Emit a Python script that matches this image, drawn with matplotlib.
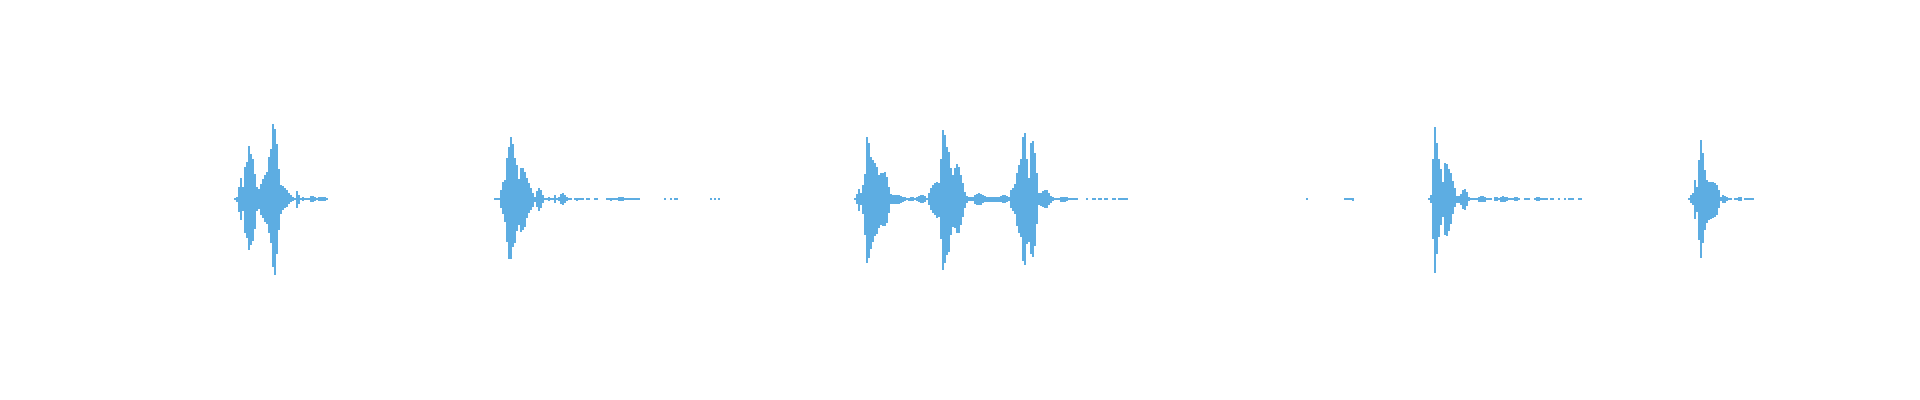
import numpy as np
import matplotlib
matplotlib.use("Agg")
import matplotlib.pyplot as plt

WAVE_COLOR = "#5dade2"
STEP = 2  # samples (columns) per envelope value

# ---- waveform envelope data (peak above / below the zero line) ----
burst1_start = 234
burst1_up = [1, 2, 12, 21, 12, 32, 37, 53, 45, 40, 25, 12, 10, 15, 20, 24, 27, 42, 50, 75,
             70, 55, 30, 14, 13, 11, 9, 6, 4, 2, 1, 8, 4, 1, 2, 1, 1, 1, 3, 3,
             2, 1, 2, 2, 2, 2, 1]
burst1_down = [1, 3, 13, 21, 12, 34, 39, 51, 46, 42, 30, 12, 10, 16, 19, 23, 25, 34, 44, 68,
               76, 55, 31, 15, 11, 9, 8, 5, 3, 2, 1, 9, 5, 1, 2, 1, 1, 1, 3, 3,
               2, 1, 2, 2, 2, 2, 1]

burst2_start = 494
burst2_up = [1, 1, 1, 9, 17, 19, 41, 52, 62, 55, 41, 34, 20, 31, 31, 27, 21, 16, 11, 6,
             2, 8, 11, 9, 4, 1, 1, 2, 1, 1, 4, 1, 2, 5, 6, 4, 2, 1, 1, 0,
             1, 1, 1, 1, 1, 0, 1, 1, 0, 0, 1, 1, 0, 0, 0, 0, 1, 1, 1, 1,
             1, 1, 2, 2, 2, 1, 1, 1, 1, 1, 1, 1, 1, 0, 0, 0, 0, 0, 0, 0,
             0, 0, 0, 0, 0, 1, 0, 0, 1, 0, 1, 1, 0, 0, 0, 0, 0, 0, 0, 0,
             0, 0, 0, 0, 0, 0, 0, 0, 1, 0, 1, 0, 1]
burst2_down = [1, 1, 1, 9, 15, 23, 43, 60, 60, 48, 44, 32, 26, 33, 31, 28, 19, 14, 11, 8,
               3, 8, 12, 9, 4, 1, 1, 2, 1, 1, 4, 1, 2, 5, 6, 4, 2, 1, 1, 0,
               1, 2, 1, 1, 1, 0, 1, 1, 0, 0, 1, 1, 0, 0, 0, 0, 1, 1, 2, 1,
               1, 1, 2, 2, 2, 1, 1, 1, 1, 1, 1, 1, 1, 0, 0, 0, 0, 0, 0, 0,
               0, 0, 0, 0, 0, 1, 0, 0, 1, 0, 1, 1, 0, 0, 0, 0, 0, 0, 0, 0,
               0, 0, 0, 0, 0, 0, 0, 0, 1, 0, 1, 0, 1]

burst3_start = 854
burst3_up = [1, 5, 10, 6, 14, 25, 62, 56, 42, 39, 36, 32, 24, 26, 26, 27, 22, 12, 5, 4,
             4, 4, 4, 3, 2, 2, 1, 1, 2, 2, 1, 2, 3, 4, 4, 3, 1, 6, 11, 14,
             16, 17, 16, 40, 69, 64, 52, 47, 31, 24, 31, 35, 32, 24, 16, 7, 3, 2, 2, 2,
             4, 5, 6, 5, 4, 3, 2, 2, 2, 2, 2, 2, 2, 3, 4, 4, 3, 2, 9, 11,
             15, 26, 34, 40, 62, 66, 40, 21, 56, 58, 46, 26, 6, 6, 8, 9, 9, 6, 3, 2,
             1, 1, 1, 2, 2, 2, 2, 1, 1, 1, 1, 1, 0, 0, 0, 0, 1, 0, 0, 1,
             1, 0, 1, 1, 0, 1, 1, 0, 0, 1, 1, 0, 1, 1, 1, 1, 1]
burst3_down = [1, 5, 12, 6, 15, 36, 64, 59, 50, 43, 37, 35, 29, 26, 27, 27, 24, 14, 5, 5,
               5, 5, 5, 4, 3, 2, 1, 2, 2, 2, 1, 2, 3, 4, 4, 3, 1, 6, 11, 14,
               16, 19, 18, 40, 71, 64, 56, 53, 36, 28, 29, 34, 34, 26, 18, 9, 4, 2, 2, 2,
               5, 6, 6, 6, 4, 3, 3, 3, 3, 3, 3, 3, 3, 3, 4, 4, 3, 2, 9, 12,
               15, 27, 34, 38, 62, 66, 45, 43, 55, 58, 47, 25, 6, 7, 8, 9, 9, 6, 4, 2,
               1, 1, 1, 3, 3, 3, 2, 1, 1, 1, 1, 1, 0, 0, 0, 0, 1, 0, 0, 1,
               1, 0, 1, 1, 0, 1, 1, 0, 0, 1, 1, 0, 1, 1, 1, 1, 1]

dots4a_start = 1306
dots4a_up = [1]
dots4a_down = [1]

dots4b_start = 1344
dots4b_up = [1, 1, 1, 1, 1]
dots4b_down = [1, 1, 1, 1, 2]

burst4_start = 1428
burst4_up = [1, 4, 40, 72, 56, 40, 30, 17, 36, 35, 30, 26, 18, 11, 3, 3, 5, 9, 10, 7,
             2, 1, 1, 1, 1, 2, 3, 3, 2, 1, 1, 1, 0, 2, 2, 1, 2, 3, 2, 2,
             1, 1, 1, 2, 2, 1, 0, 0, 1, 1, 1, 0, 0, 1, 2, 2, 1, 1, 1, 1,
             0, 1, 1, 0, 0, 1, 0, 0, 1, 0, 1, 1, 1, 0, 0, 1, 1]
burst4_down = [1, 4, 40, 74, 55, 38, 26, 18, 36, 37, 32, 25, 15, 8, 4, 4, 6, 10, 11, 7,
               2, 1, 1, 1, 1, 3, 3, 3, 3, 1, 1, 1, 0, 2, 2, 1, 3, 3, 3, 2,
               1, 1, 1, 2, 2, 1, 0, 0, 1, 1, 1, 0, 0, 1, 2, 2, 1, 1, 1, 1,
               0, 1, 1, 0, 0, 1, 0, 0, 1, 0, 1, 1, 1, 0, 0, 1, 1]

burst5_start = 1688
burst5_up = [1, 4, 6, 19, 12, 39, 59, 46, 29, 19, 17, 17, 17, 16, 14, 9, 2, 4, 3, 2,
             1, 1, 0, 1, 1, 2, 2, 0, 1, 1, 1, 1, 1]
burst5_down = [1, 4, 6, 20, 13, 41, 59, 44, 31, 24, 21, 20, 19, 18, 16, 9, 2, 4, 4, 2,
               1, 1, 0, 1, 1, 2, 2, 0, 1, 1, 1, 1, 1]

segments = [
    (burst1_start, burst1_up, burst1_down),
    (burst2_start, burst2_up, burst2_down),
    (burst3_start, burst3_up, burst3_down),
    (dots4a_start, dots4a_up, dots4a_down),
    (dots4b_start, dots4b_up, dots4b_down),
    (burst4_start, burst4_up, burst4_down),
    (burst5_start, burst5_up, burst5_down),
]

fig = plt.figure(figsize=(19.2, 4.0), dpi=100)
ax = fig.add_axes([0, 0, 1, 1])
for start, up, down in segments:
    up = np.asarray(up, dtype=float)
    down = np.asarray(down, dtype=float)
    x = start + STEP * np.arange(len(up))
    ax.bar(x, up + down, bottom=-down, width=STEP, align="edge",
           color=WAVE_COLOR, linewidth=0, antialiased=False)

ax.set_xlim(0, 1920)
ax.set_ylim(-201, 199)
ax.axis("off")
fig.savefig("out.png", dpi=100, facecolor="white")
